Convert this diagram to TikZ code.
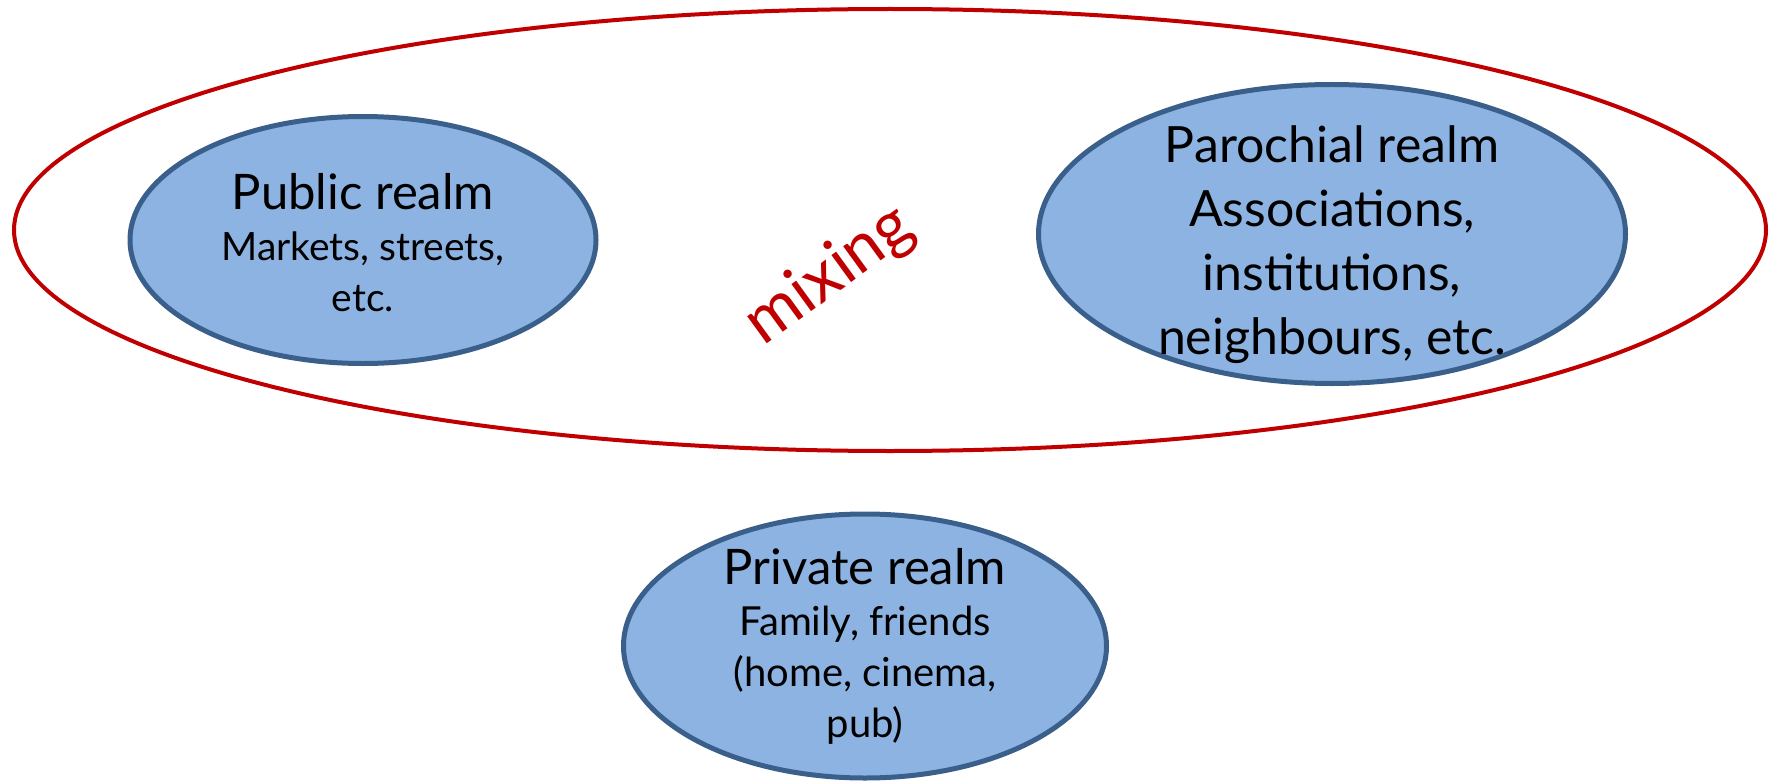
\documentclass[tikz,border=0pt]{standalone}
\usepackage{fontspec}
\setmainfont{Lato}
\usetikzlibrary{shapes.geometric,positioning}
\definecolor{realmfill}{RGB}{141,179,226}
\definecolor{realmline}{RGB}{58,95,139}
\definecolor{mixred}{RGB}{192,0,0}

\begin{document}
\begin{tikzpicture}[x=1pt,y=-1pt]
		\tikzstyle{Realm}	= [ellipse, draw=realmline, fill=realmfill, line width=5pt, inner sep=0pt]
		\tikzstyle{Mix}		= [ellipse, draw=mixred, line width=4pt, inner sep=0pt]
		\tikzstyle{Label}	= [align=center, inner sep=0pt, text=black]
		\tikzstyle{Small}	= [font=\fontsize{39}{51}\selectfont]

		\useasboundingbox (0,0) rectangle (1770,781);

		\node (mix) at (890,230) [Mix, minimum width=1752pt, minimum height=442pt] {};

		\node (pub) at (363,240) [Realm, minimum width=466pt, minimum height=247pt] {};
		\node (par) at (1332,234) [Realm, minimum width=587pt, minimum height=299pt] {};
		\node (pri) at (865,646) [Realm, minimum width=483pt, minimum height=264pt] {};

		\node (pubtxt) at (363,243) [Label, Small] {{\fontsize{49}{52}\selectfont Public realm}\\Markets, streets,\\etc.};
		\node (partxt) at (1332,245) [Label, font=\fontsize{50}{64}\selectfont] {Parochial realm\\Associations,\\institutions,\\neighbours, etc.};
		\node (pritxt) at (865,646) [Label, font=\fontsize{40}{51}\selectfont] {{\fontsize{49}{53}\selectfont Private realm}\\Family, friends\\(home, cinema,\\pub)};

		\node (mixing) at (830,276) [text=mixred, rotate=36, font=\fontsize{66}{68}\selectfont, inner sep=0pt] {mixing};
	\end{tikzpicture}
\end{document}
